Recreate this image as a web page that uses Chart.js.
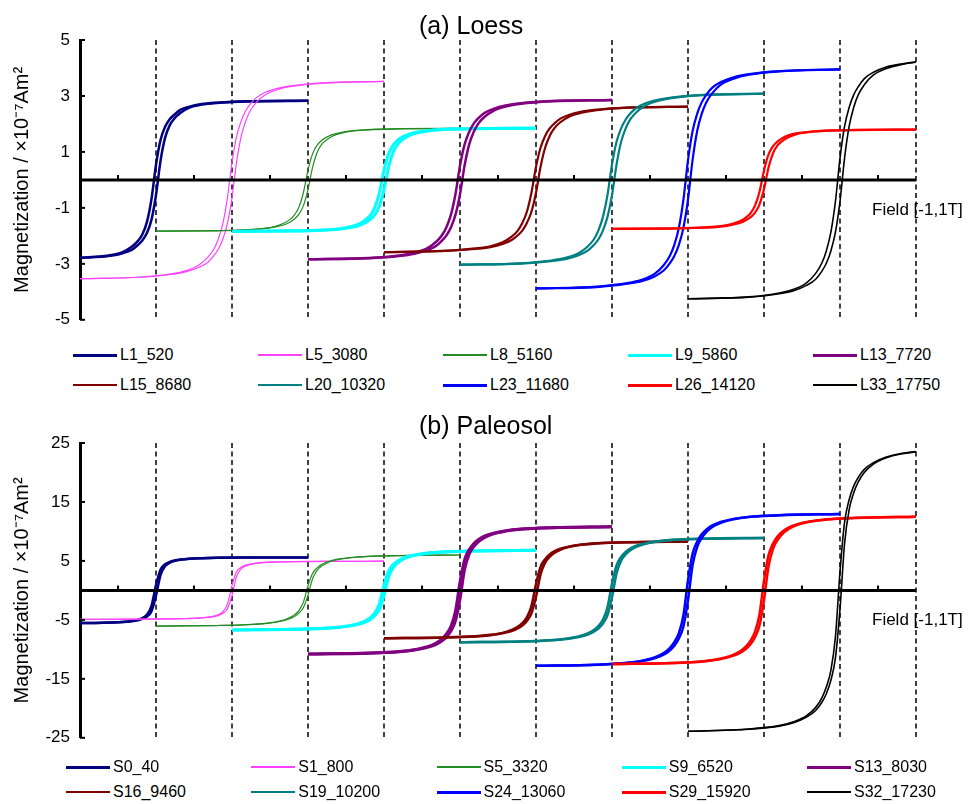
<!DOCTYPE html>
<html>
<head>
<meta charset="utf-8">
<title>Hysteresis loops</title>
<script src="https://cdn.jsdelivr.net/npm/chart.js@4.4.1/dist/chart.umd.min.js"></script>
<style>
  html, body { margin: 0; padding: 0; background: #fff; }
  body {
    width: 970px; height: 804px; position: relative; overflow: hidden;
    font-family: "Liberation Sans", Arial, Helvetica, sans-serif; color: #000;
  }
  canvas { position: absolute; left: 0; }
  .panel-title { position: absolute; left: 419px; font-size: 25px; line-height: 30px; white-space: nowrap; }
  .legend-item { position: absolute; height: 20px; display: flex; align-items: center; font-size: 16px; white-space: nowrap; }
  .legend-item .swatch { display: inline-block; width: 44px; margin-right: 3px; }
</style>
</head>
<body>
<canvas id="loessChart" width="970" height="340" style="top:0"></canvas>
<canvas id="paleosolChart" width="970" height="358" style="top:400px"></canvas>
<div class="panel-title" style="top:10px">(a) Loess</div>
<div class="panel-title" style="top:410px">(b) Paleosol</div>
<div id="loessLegend"></div>
<div id="paleosolLegend"></div>

<script>
// ============================================================
// DATA
// ============================================================

// field steps of every loop, in T
const FIELD_T = [-1, -0.6, -0.4, -0.3, -0.22, -0.16, -0.12, -0.09, -0.06, -0.03, 0,
                 0.03, 0.06, 0.09, 0.12, 0.16, 0.22, 0.3, 0.4, 0.6, 1];

// each loop is shifted along the field axis so they sit side by side
const LOOP_OFFSET_T = [0.5, 1.0, 1.5, 2.0, 2.5, 3.0, 3.5, 4.0, 4.5, 5.0];

const LOESS_LABELS = ["L1_520", "L5_3080", "L8_5160", "L9_5860", "L13_7720",
                      "L15_8680", "L20_10320", "L23_11680", "L26_14120", "L33_17750"];
const PALEOSOL_LABELS = ["S0_40", "S1_800", "S5_3320", "S9_6520", "S13_8030",
                         "S16_9460", "S19_10200", "S24_13060", "S29_15920", "S32_17230"];

// magnetization (x10^-7 Am^2), ascending and descending branch
const L1_520_ASC = [-2.83, -2.81, -2.76, -2.71, -2.62, -2.5, -2.33, -2.17, -1.9, -1.43, -0.54, 0.69, 1.51, 1.95, 2.19, 2.39, 2.58, 2.69, 2.75, 2.8, 2.83];
const L1_520_DESC = [-2.83, -2.8, -2.75, -2.69, -2.58, -2.39, -2.19, -1.95, -1.51, -0.69, 0.54, 1.43, 1.9, 2.17, 2.33, 2.5, 2.62, 2.71, 2.76, 2.81, 2.83];
const L5_3080_ASC = [-3.53, -3.48, -3.38, -3.28, -3.13, -2.95, -2.71, -2.48, -2.11, -1.55, -0.64, 0.63, 1.55, 2.1, 2.47, 2.77, 3.04, 3.23, 3.35, 3.46, 3.52];
const L5_3080_DESC = [-3.53, -3.47, -3.36, -3.24, -3.05, -2.77, -2.48, -2.11, -1.55, -0.64, 0.63, 1.55, 2.1, 2.47, 2.71, 2.94, 3.13, 3.27, 3.37, 3.47, 3.52];
const L8_5160_ASC = [-1.83, -1.82, -1.79, -1.75, -1.69, -1.61, -1.51, -1.4, -1.23, -0.92, -0.35, 0.45, 0.98, 1.27, 1.42, 1.56, 1.67, 1.75, 1.79, 1.82, 1.84];
const L8_5160_DESC = [-1.83, -1.81, -1.78, -1.74, -1.67, -1.55, -1.42, -1.26, -0.98, -0.45, 0.35, 0.93, 1.24, 1.41, 1.52, 1.62, 1.7, 1.76, 1.8, 1.83, 1.84];
const L9_5860_ASC = [-1.84, -1.83, -1.8, -1.76, -1.7, -1.62, -1.52, -1.41, -1.24, -0.93, -0.35, 0.45, 0.99, 1.27, 1.43, 1.57, 1.68, 1.76, 1.8, 1.83, 1.85];
const L9_5860_DESC = [-1.84, -1.82, -1.79, -1.75, -1.67, -1.56, -1.42, -1.27, -0.98, -0.45, 0.35, 0.93, 1.24, 1.42, 1.53, 1.63, 1.71, 1.77, 1.81, 1.84, 1.85];
const L13_7720_ASC = [-2.84, -2.8, -2.72, -2.64, -2.52, -2.37, -2.18, -1.99, -1.7, -1.25, -0.51, 0.51, 1.26, 1.71, 2.01, 2.25, 2.47, 2.62, 2.72, 2.81, 2.86];
const L13_7720_DESC = [-2.84, -2.79, -2.7, -2.6, -2.46, -2.23, -1.99, -1.7, -1.25, -0.51, 0.51, 1.26, 1.71, 2.01, 2.2, 2.39, 2.54, 2.66, 2.74, 2.82, 2.86];
const L15_8680_ASC = [-2.58, -2.54, -2.47, -2.4, -2.29, -2.15, -1.98, -1.81, -1.54, -1.14, -0.46, 0.47, 1.15, 1.57, 1.84, 2.06, 2.27, 2.4, 2.49, 2.58, 2.62];
const L15_8680_DESC = [-2.58, -2.54, -2.45, -2.37, -2.23, -2.03, -1.81, -1.54, -1.14, -0.46, 0.47, 1.15, 1.57, 1.84, 2.01, 2.19, 2.33, 2.44, 2.51, 2.58, 2.62];
const L20_10320_ASC = [-3.03, -2.99, -2.9, -2.82, -2.69, -2.53, -2.33, -2.13, -1.81, -1.33, -0.55, 0.55, 1.36, 1.84, 2.16, 2.42, 2.66, 2.82, 2.93, 3.03, 3.08];
const L20_10320_DESC = [-3.03, -2.98, -2.88, -2.78, -2.62, -2.38, -2.13, -1.81, -1.33, -0.55, 0.55, 1.36, 1.84, 2.16, 2.37, 2.57, 2.74, 2.86, 2.95, 3.04, 3.08];
const L23_11680_ASC = [-3.88, -3.83, -3.71, -3.61, -3.45, -3.24, -2.98, -2.72, -2.32, -1.71, -0.7, 0.71, 1.74, 2.36, 2.77, 3.1, 3.42, 3.62, 3.76, 3.88, 3.95];
const L23_11680_DESC = [-3.88, -3.81, -3.69, -3.56, -3.36, -3.05, -2.72, -2.32, -1.71, -0.7, 0.71, 1.74, 2.36, 2.77, 3.04, 3.3, 3.51, 3.67, 3.78, 3.89, 3.95];
const L26_14120_ASC = [-1.75, -1.74, -1.71, -1.68, -1.62, -1.54, -1.44, -1.34, -1.18, -0.88, -0.33, 0.44, 0.96, 1.24, 1.39, 1.52, 1.64, 1.71, 1.75, 1.78, 1.8];
const L26_14120_DESC = [-1.75, -1.73, -1.7, -1.66, -1.59, -1.48, -1.35, -1.2, -0.93, -0.43, 0.34, 0.91, 1.21, 1.38, 1.49, 1.59, 1.67, 1.72, 1.76, 1.79, 1.8];
const L33_17750_ASC = [-4.25, -4.19, -4.07, -3.95, -3.77, -3.55, -3.27, -2.98, -2.54, -1.87, -0.77, 0.78, 1.91, 2.59, 3.04, 3.4, 3.75, 3.97, 4.12, 4.26, 4.33];
const L33_17750_DESC = [-4.25, -4.18, -4.04, -3.9, -3.68, -3.34, -2.98, -2.54, -1.87, -0.77, 0.78, 1.91, 2.59, 3.04, 3.33, 3.62, 3.85, 4.03, 4.14, 4.27, 4.33];

const S0_40_ASC = [-5.6, -5.57, -5.52, -5.46, -5.38, -5.25, -5.07, -4.84, -4.43, -3.56, -0.91, 2.65, 4.13, 4.68, 4.97, 5.19, 5.36, 5.45, 5.52, 5.57, 5.6];
const S0_40_DESC = [-5.6, -5.57, -5.52, -5.45, -5.36, -5.19, -4.97, -4.68, -4.13, -2.65, 0.91, 3.56, 4.43, 4.84, 5.07, 5.25, 5.38, 5.46, 5.52, 5.57, 5.6];
const S1_800_ASC = [-4.9, -4.88, -4.83, -4.78, -4.7, -4.6, -4.44, -4.23, -3.88, -3.12, -0.8, 2.34, 3.65, 4.14, 4.39, 4.59, 4.74, 4.82, 4.88, 4.93, 4.95];
const S1_800_DESC = [-4.9, -4.88, -4.83, -4.77, -4.69, -4.54, -4.35, -4.1, -3.61, -2.32, 0.81, 3.15, 3.92, 4.28, 4.48, 4.64, 4.75, 4.83, 4.88, 4.93, 4.95];
const S5_3320_ASC = [-6.05, -5.96, -5.83, -5.67, -5.44, -5.15, -4.82, -4.44, -3.86, -2.9, -0.8, 1.97, 3.4, 4.12, 4.58, 4.98, 5.33, 5.59, 5.76, 5.9, 6.0];
const S5_3320_DESC = [-6.05, -5.95, -5.81, -5.63, -5.38, -5.02, -4.62, -4.15, -3.43, -1.99, 0.8, 2.87, 3.83, 4.4, 4.78, 5.11, 5.39, 5.62, 5.78, 5.91, 6.0];
const S9_6520_ASC = [-6.7, -6.6, -6.45, -6.28, -6.02, -5.71, -5.33, -4.92, -4.27, -3.21, -0.89, 2.24, 3.86, 4.66, 5.2, 5.64, 6.05, 6.33, 6.53, 6.69, 6.8];
const S9_6520_DESC = [-6.7, -6.59, -6.43, -6.24, -5.96, -5.56, -5.12, -4.6, -3.8, -2.2, 0.9, 3.26, 4.34, 4.99, 5.41, 5.79, 6.11, 6.37, 6.55, 6.7, 6.8];
const S13_8030_ASC = [-10.8, -10.64, -10.4, -10.12, -9.71, -9.2, -8.6, -7.93, -6.89, -5.17, -1.44, 3.55, 6.12, 7.41, 8.25, 8.96, 9.6, 10.05, 10.37, 10.63, 10.8];
const S13_8030_DESC = [-10.8, -10.63, -10.37, -10.05, -9.6, -8.96, -8.25, -7.41, -6.12, -3.55, 1.44, 5.17, 6.89, 7.93, 8.6, 9.2, 9.71, 10.12, 10.4, 10.64, 10.8];
const S16_9460_ASC = [-8.1, -7.98, -7.8, -7.59, -7.28, -6.9, -6.45, -5.95, -5.17, -3.88, -1.08, 2.73, 4.71, 5.69, 6.34, 6.89, 7.38, 7.73, 7.97, 8.17, 8.3];
const S16_9460_DESC = [-8.1, -7.97, -7.78, -7.54, -7.2, -6.72, -6.19, -5.56, -4.59, -2.66, 1.1, 3.98, 5.3, 6.09, 6.61, 7.07, 7.46, 7.78, 7.99, 8.18, 8.3];
const S19_10200_ASC = [-8.8, -8.67, -8.47, -8.25, -7.91, -7.5, -7.0, -6.46, -5.61, -4.22, -1.17, 2.93, 5.05, 6.11, 6.8, 7.39, 7.91, 8.29, 8.54, 8.76, 8.9];
const S19_10200_DESC = [-8.8, -8.66, -8.45, -8.19, -7.82, -7.3, -6.72, -6.04, -4.99, -2.9, 1.18, 4.26, 5.68, 6.53, 7.08, 7.58, 8.0, 8.34, 8.57, 8.77, 8.9];
const S24_13060_ASC = [-12.8, -12.61, -12.33, -11.99, -11.51, -10.91, -10.19, -9.4, -8.17, -6.13, -1.7, 4.26, 7.34, 8.88, 9.89, 10.75, 11.51, 12.06, 12.43, 12.74, 12.95];
const S24_13060_DESC = [-12.8, -12.6, -12.29, -11.92, -11.38, -10.62, -9.78, -8.78, -7.26, -4.21, 1.72, 6.2, 8.26, 9.51, 10.31, 11.03, 11.64, 12.13, 12.47, 12.76, 12.95];
const S29_15920_ASC = [-12.5, -12.31, -12.04, -11.71, -11.24, -10.65, -9.95, -9.18, -7.98, -5.99, -1.66, 4.11, 7.09, 8.58, 9.55, 10.38, 11.11, 11.64, 12.0, 12.3, 12.5];
const S29_15920_DESC = [-12.5, -12.3, -12.0, -11.64, -11.11, -10.38, -9.55, -8.58, -7.09, -4.11, 1.66, 5.99, 7.98, 9.18, 9.95, 10.65, 11.24, 11.71, 12.04, 12.31, 12.5];
const S32_17230_ASC = [-23.9, -23.54, -23.02, -22.39, -21.49, -20.36, -19.02, -17.54, -15.25, -11.45, -3.18, 7.93, 13.66, 16.53, 18.41, 20.0, 21.42, 22.44, 23.14, 23.71, 24.1];
const S32_17230_DESC = [-23.9, -23.52, -22.94, -22.25, -21.25, -19.84, -18.26, -16.4, -13.55, -7.86, 3.21, 11.54, 15.38, 17.69, 19.18, 20.53, 21.67, 22.58, 23.21, 23.74, 24.1];

const LOESS_ASC = [L1_520_ASC, L5_3080_ASC, L8_5160_ASC, L9_5860_ASC, L13_7720_ASC,
                   L15_8680_ASC, L20_10320_ASC, L23_11680_ASC, L26_14120_ASC, L33_17750_ASC];
const LOESS_DESC = [L1_520_DESC, L5_3080_DESC, L8_5160_DESC, L9_5860_DESC, L13_7720_DESC,
                    L15_8680_DESC, L20_10320_DESC, L23_11680_DESC, L26_14120_DESC, L33_17750_DESC];
const PALEOSOL_ASC = [S0_40_ASC, S1_800_ASC, S5_3320_ASC, S9_6520_ASC, S13_8030_ASC,
                      S16_9460_ASC, S19_10200_ASC, S24_13060_ASC, S29_15920_ASC, S32_17230_ASC];
const PALEOSOL_DESC = [S0_40_DESC, S1_800_DESC, S5_3320_DESC, S9_6520_DESC, S13_8030_DESC,
                       S16_9460_DESC, S19_10200_DESC, S24_13060_DESC, S29_15920_DESC, S32_17230_DESC];


// ============================================================
// STYLE
// ============================================================

const FONT = '"Liberation Sans", Arial, Helvetica, sans-serif';
const LOOP_COLORS = ["#000080", "#ff40ff", "#228b22", "#00ffff", "#800080",
                     "#800000", "#008080", "#0000ff", "#ff0000", "#000000"];
const LOESS_LINE_WIDTHS = [2.5, 1.2, 1.2, 3, 2.5, 2.2, 2.2, 2.2, 2.2, 1.6];
const PALEOSOL_LINE_WIDTHS = [2.5, 1.2, 1.2, 3, 3, 2.5, 2.5, 2.5, 2.5, 1.6];
const SWATCH_WIDTHS = [3, 1.2, 1.2, 3, 3, 2.5, 2.5, 3, 3, 2.5];
const GRID_STEP_T = 0.5;


// ============================================================
// DECORATION PLUGIN (dashed guides, zero axis, inward ticks)
// ============================================================

const fieldAxisPlugin = {
  id: "fieldAxis",

  beforeDatasetsDraw(chart) {
    const { ctx, chartArea: area, scales: { x } } = chart;
    ctx.save();
    ctx.strokeStyle = "#000";
    ctx.lineWidth = 1.5;
    ctx.setLineDash([5, 3.5]);
    for (let v = x.min + GRID_STEP_T; v <= x.max + 1e-9; v += GRID_STEP_T) {
      const px = x.getPixelForValue(v);
      ctx.beginPath();
      ctx.moveTo(px, area.top);
      ctx.lineTo(px, area.bottom);
      ctx.stroke();
    }
    ctx.restore();
  },

  afterDatasetsDraw(chart) {
    const { ctx, chartArea: area, scales: { x, y } } = chart;
    const y0 = y.getPixelForValue(0);

    ctx.save();
    ctx.strokeStyle = "#000";
    ctx.lineWidth = 3;
    ctx.beginPath();
    ctx.moveTo(area.left, y0);
    ctx.lineTo(area.right, y0);
    ctx.stroke();

    // small ticks half way between the dashed guides
    ctx.lineWidth = 2;
    for (let v = x.min + GRID_STEP_T / 2; v < x.max; v += GRID_STEP_T) {
      const px = x.getPixelForValue(v);
      ctx.beginPath();
      ctx.moveTo(px, y0);
      ctx.lineTo(px, y0 - 5);
      ctx.stroke();
    }

    // inward ticks on the magnetization axis
    y.ticks.forEach(t => {
      const py = y.getPixelForValue(t.value);
      ctx.beginPath();
      ctx.moveTo(area.left, py);
      ctx.lineTo(area.left + 5, py);
      ctx.stroke();
    });

    ctx.font = "17px " + FONT;
    ctx.fillStyle = "#000";
    ctx.textBaseline = "middle";
    ctx.fillText("Field [-1,1T]", area.right - 44, y0 + 30);
    ctx.restore();
  }
};


// ============================================================
// CHART BUILDERS
// ============================================================

function loopDatasets(labels, ascList, descList, widths) {
  const sets = [];
  labels.forEach((label, i) => {
    [ascList[i], descList[i]].forEach(branch => {
      sets.push({
        label,
        data: branch.map((m, k) => ({ x: LOOP_OFFSET_T[i] + FIELD_T[k], y: m })),
        borderColor: LOOP_COLORS[i],
        borderWidth: widths[i],
        swatchWidth: SWATCH_WIDTHS[i],
        order: -i
      });
    });
  });
  return sets;
}

function makeChart(canvasId, datasets, yMin, yMax, yStep, padding) {
  return new Chart(document.getElementById(canvasId), {
    type: "line",
    data: { datasets },
    options: {
      responsive: false,
      animation: false,
      devicePixelRatio: 1,
      layout: { padding },
      elements: {
        point: { radius: 0 },
        line: { cubicInterpolationMode: "monotone", fill: false }
      },
      plugins: {
        legend: { display: false },
        tooltip: { enabled: false }
      },
      scales: {
        x: { type: "linear", min: 0, max: 5.5, display: false },
        y: {
          min: yMin,
          max: yMax,
          afterFit: (scale) => { scale.width = 80; },
          border: { display: true, color: "#000", width: 3 },
          grid: { display: false, drawTicks: false },
          ticks: { stepSize: yStep, color: "#000", padding: 10, font: { size: 17, family: FONT } },
          title: {
            display: true,
            text: "Magnetization / ×10⁻⁷Am²",
            color: "#000",
            font: { size: 20, family: FONT },
            padding: { top: 10, bottom: 0 }
          }
        }
      }
    },
    plugins: [fieldAxisPlugin]
  });
}

function buildLegend(containerId, chart, left0, colStep, top0, rowStep) {
  const box = document.getElementById(containerId);
  chart.data.datasets.filter((d, k) => k % 2 === 0).forEach((ds, i) => {
    const item = document.createElement("div");
    item.className = "legend-item";
    item.style.left = (left0 + (i % 5) * colStep) + "px";
    item.style.top = (top0 + Math.floor(i / 5) * rowStep) + "px";
    item.innerHTML =
      `<span class="swatch" style="height:${ds.swatchWidth}px;background:${ds.borderColor}"></span>${ds.label}`;
    box.appendChild(item);
  });
}


// ============================================================
// RENDER
// ============================================================

const loessChart = makeChart(
  "loessChart",
  loopDatasets(LOESS_LABELS, LOESS_ASC, LOESS_DESC, LOESS_LINE_WIDTHS),
  -5, 5, 2,
  { top: 40, right: 54, bottom: 14, left: 0 }
);

const paleosolChart = makeChart(
  "paleosolChart",
  loopDatasets(PALEOSOL_LABELS, PALEOSOL_ASC, PALEOSOL_DESC, PALEOSOL_LINE_WIDTHS),
  -25, 25, 10,
  { top: 43, right: 54, bottom: 10, left: 0 }
);

buildLegend("loessLegend", loessChart, 73, 185, 345, 30);
buildLegend("paleosolLegend", paleosolChart, 66, 185.25, 757, 25);
</script>
</body>
</html>
